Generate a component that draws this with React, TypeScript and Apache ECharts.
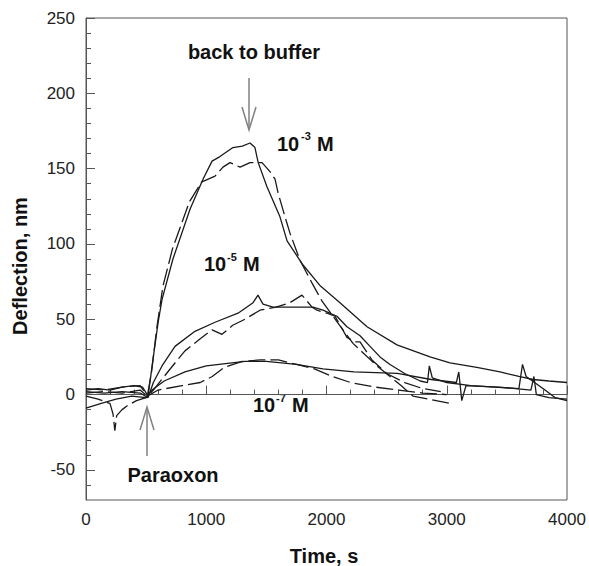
import React, { useEffect, useRef } from "react";
import * as echarts from "echarts";

// x: time (s), y: deflection (nm)
const s3: number[][] = [[0,3],[100,4],[200,3],[300,5],[400,6],[470,5],[516,-1],[560,25],[600,48],[632,63],[723,90],[865,123],[973,143],[1048,155],[1114,158],[1222,164],[1300,165],[1364,167],[1405,164],[1432,154],[1505,138],[1613,118],[1672,102],[1805,86],[1950,72],[2112,61],[2337,45],[2586,33],[2861,25],[3027,21],[3250,18],[3443,15],[3600,12],[3717,10],[3850,9],[4000,8]];
const d3: number[][] = [[0,1],[150,2],[300,1],[450,3],[510,-1],[545,15],[590,45],[640,72],[720,97],[860,128],[960,141],[1073,145],[1139,151],[1197,154],[1281,151],[1364,154],[1464,154],[1530,148],[1572,143],[1597,134],[1655,118],[1697,107],[1780,89],[1880,74],[1963,62],[2100,47],[2220,34],[2420,19],[2528,12],[2620,6],[2719,-1],[2850,-3],[3040,-6]];
const s5: number[][] = [[0,2],[150,1],[300,2],[450,1],[516,-2],[560,8],[632,19],[740,32],[906,42],[1073,48],[1264,54],[1389,61],[1430,66],[1472,60],[1555,58],[1696,58],[1888,58],[1971,56],[2087,52],[2170,45],[2279,39],[2362,32],[2445,25],[2528,20],[2650,14],[2780,9],[2840,8],[2855,19],[2880,11],[3000,8],[3200,6],[3400,5],[3600,4],[3630,20],[3660,12],[3800,4],[3900,-2],[4000,-4]];
const d5: number[][] = [[0,-1],[100,-3],[200,-6],[225,-13],[240,-24],[255,-14],[300,-10],[350,-7],[420,-4],[500,-2],[560,3],[650,12],[750,22],[823,29],[950,37],[1048,43],[1131,40],[1220,46],[1322,50],[1447,56],[1580,58],[1696,61],[1796,66],[1880,58],[1921,56],[2004,54],[2071,52],[2170,38],[2237,35],[2279,35],[2378,23],[2500,14],[2650,8],[2800,4],[2950,2]];
const s7: number[][] = [[0,-9],[120,-6],[250,-3],[380,-1],[500,-2],[549,3],[650,9],[823,15],[1000,19],[1322,22],[1500,22],[1750,20],[1970,17],[2230,15],[2590,14],[2870,10],[3080,8],[3100,15],[3125,-4],[3160,6],[3430,5],[3700,3],[3725,12],[3745,0],[3850,-2],[4000,-3]];
const d7: number[][] = [[0,4],[150,3],[300,5],[450,6],[510,-1],[600,3],[800,6],[950,8],[1050,12],[1150,18],[1300,22],[1450,23],[1600,23],[1750,20],[1900,17],[2050,12],[2200,8],[2400,5],[2600,3],[2800,1],[3000,0]];

const yMajor = [-50, 0, 50, 100, 150, 200, 250];
const yMinor = [-60, -40, -30, -20, -10, 10, 20, 30, 40, 60, 70, 80, 90, 110, 120, 130, 140, 160, 170, 180, 190, 210, 220, 230, 240];

const FONT = "'Liberation Sans', Arial, sans-serif";
const INK = "#111";
const AXIS = "#555";
const ARROW = "#808080";

export default function App() {
  const ref = useRef<HTMLDivElement>(null);
  useEffect(() => {
    const chart = echarts.init(ref.current!, null, { renderer: "svg" });
    const mk = (name: string, data: number[][], dashed: boolean) => ({
      type: "line",
      name,
      data,
      showSymbol: false,
      symbol: "none",
      silent: true,
      xAxisIndex: 0,
      yAxisIndex: 0,
      lineStyle: { color: "#1a1a1a", width: 1.3, type: dashed ? [17, 5] : "solid" },
    });
    const t = (text: string, x: number, y: number, size: number, align = "left") => ({
      type: "text",
      x,
      y,
      style: { text, font: `bold ${size}px ${FONT}`, fill: INK, align, verticalAlign: "middle" },
    });
    chart.setOption({
      animation: false,
      grid: { left: 86, right: 22, top: 18, bottom: 66, show: true, borderColor: AXIS, borderWidth: 1 },
      xAxis: {
        type: "value",
        min: 0,
        max: 4000,
        interval: 1000,
        axisLine: { show: true, lineStyle: { color: AXIS } },
        axisTick: { show: true, inside: true, length: 9, lineStyle: { color: AXIS } },
        minorTick: { show: true, splitNumber: 5, length: 5, lineStyle: { color: AXIS } },
        axisLabel: { fontSize: 17, color: "#222", margin: 11, fontFamily: FONT, formatter: (v: number) => String(v) },
        splitLine: { show: false },
        minorSplitLine: { show: false },
      },
      yAxis: [
        {
          type: "value",
          min: -70,
          max: 250,
          position: "left",
          axisLine: { show: true, lineStyle: { color: AXIS } },
          axisTick: { show: true, inside: true, length: 9, customValues: yMajor, lineStyle: { color: AXIS } },
          axisLabel: { fontSize: 17, color: "#222", margin: 11, fontFamily: FONT, customValues: yMajor, formatter: (v: number) => String(v) },
          splitLine: { show: false },
        },
        {
          type: "value",
          min: -70,
          max: 250,
          position: "left",
          axisLine: { show: false },
          axisTick: { show: true, inside: true, length: 5, customValues: yMinor, lineStyle: { color: AXIS } },
          axisLabel: { show: false },
          splitLine: { show: false },
        },
      ],
      series: [
        mk("10^-3 M", s3, false),
        mk("10^-3 M (dashed)", d3, true),
        mk("10^-5 M", s5, false),
        mk("10^-5 M (dashed)", d5, true),
        mk("10^-7 M", s7, false),
        mk("10^-7 M (dashed)", d7, true),
      ],
      graphic: [
        t("back to buffer", 254, 52, 20, "center"),
        { type: "line", shape: { x1: 249, y1: 78, x2: 249, y2: 129 }, style: { stroke: ARROW, lineWidth: 1.5 } },
        { type: "polyline", shape: { points: [[242, 107], [249, 130], [256, 107]] }, style: { stroke: ARROW, lineWidth: 1.5, fill: "none" } },
        t("10", 277, 144, 20),
        t("-3", 301, 136, 11),
        t("M", 317, 144, 20),
        t("10", 204, 264, 20),
        t("-5", 227, 257, 11),
        t("M", 243, 264, 20),
        t("10", 253, 405, 20),
        t("-7", 276, 398, 11),
        t("M", 292, 405, 20),
        t("Paraoxon", 173, 475, 20, "center"),
        { type: "line", shape: { x1: 147, y1: 408, x2: 147, y2: 456 }, style: { stroke: ARROW, lineWidth: 1.5 } },
        { type: "polyline", shape: { points: [[140, 430], [147, 407], [154, 430]] }, style: { stroke: ARROW, lineWidth: 1.5, fill: "none" } },
        t("Time, s", 324, 556, 20, "center"),
        { type: "text", x: 20, y: 266, rotation: Math.PI / 2, style: { text: "Deflection, nm", font: `bold 20px ${FONT}`, fill: INK, align: "center", verticalAlign: "middle" } },
      ],
    });
    return () => chart.dispose();
  }, []);
  return <div ref={ref} style={{ position: "absolute", left: 0, top: 0, width: 589, height: 566 }} />;
}
